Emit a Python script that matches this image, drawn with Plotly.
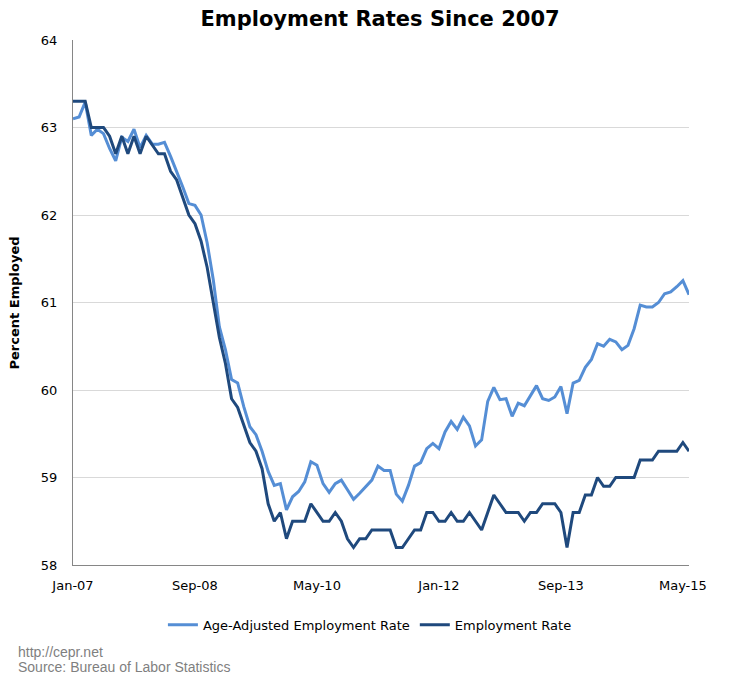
import plotly.graph_objects as go

month_names = ["Jan", "Feb", "Mar", "Apr", "May", "Jun", "Jul", "Aug", "Sep", "Oct", "Nov", "Dec"]
years = ["07", "08", "09", "10", "11", "12", "13", "14", "15"]
months = [f"{m}-{y}" for y in years for m in month_names][:102]  # Jan-07 .. Jun-15

age_adjusted = [
    63.10, 63.12, 63.29, 62.91, 62.98, 62.93, 62.76, 62.62, 62.89, 62.84, 62.98, 62.77,
    62.91, 62.81, 62.81, 62.83, 62.67, 62.50, 62.32, 62.13, 62.11, 62.00, 61.68, 61.26,
    60.72, 60.46, 60.12, 60.08, 59.81, 59.58, 59.49, 59.30, 59.07, 58.91, 58.93, 58.63,
    58.78, 58.84, 58.95, 59.18, 59.14, 58.93, 58.83, 58.93, 58.97, 58.86, 58.75, 58.82,
    58.89, 58.97, 59.13, 59.08, 59.08, 58.81, 58.73, 58.91, 59.13, 59.17, 59.33, 59.39,
    59.33, 59.52, 59.64, 59.55, 59.69, 59.59, 59.36, 59.43, 59.87, 60.03, 59.89, 59.90,
    59.70, 59.85, 59.82, 59.94, 60.05, 59.90, 59.88, 59.92, 60.04, 59.73, 60.08, 60.11,
    60.26, 60.35, 60.53, 60.50, 60.58, 60.55, 60.46, 60.51, 60.70, 60.97, 60.95, 60.95,
    61.00, 61.10, 61.12, 61.18, 61.25, 61.09,
]

employment = [
    63.3, 63.3, 63.3, 63.0, 63.0, 63.0, 62.9, 62.7, 62.9, 62.7, 62.9, 62.7,
    62.9, 62.8, 62.7, 62.7, 62.5, 62.4, 62.2, 62.0, 61.9, 61.7, 61.4, 61.0,
    60.6, 60.3, 59.9, 59.8, 59.6, 59.4, 59.3, 59.1, 58.7, 58.5, 58.6, 58.3,
    58.5, 58.5, 58.5, 58.7, 58.6, 58.5, 58.5, 58.6, 58.5, 58.3, 58.2, 58.3,
    58.3, 58.4, 58.4, 58.4, 58.4, 58.2, 58.2, 58.3, 58.4, 58.4, 58.6, 58.6,
    58.5, 58.5, 58.6, 58.5, 58.5, 58.6, 58.5, 58.4, 58.6, 58.8, 58.7, 58.6,
    58.6, 58.6, 58.5, 58.6, 58.6, 58.7, 58.7, 58.7, 58.6, 58.2, 58.6, 58.6,
    58.8, 58.8, 59.0, 58.9, 58.9, 59.0, 59.0, 59.0, 59.0, 59.2, 59.2, 59.2,
    59.3, 59.3, 59.3, 59.3, 59.4, 59.3,
]

x_tick_labels = ["Jan-07", "Sep-08", "May-10", "Jan-12", "Sep-13", "May-15"]
y_ticks = [58, 59, 60, 61, 62, 63, 64]

fig = go.Figure()
fig.add_trace(go.Scatter(
    x=months, y=age_adjusted, mode="lines", name="Age-Adjusted Employment Rate",
    line=dict(color="#558ED5", width=3),
))
fig.add_trace(go.Scatter(
    x=months, y=employment, mode="lines", name="Employment Rate",
    line=dict(color="#1F497D", width=3),
))

footer_font = dict(family="Liberation Sans", size=14, color="#7F7F7F")

fig.update_layout(
    width=721, height=671,
    margin=dict(l=65, r=40, t=32, b=114, autoexpand=False),
    paper_bgcolor="white", plot_bgcolor="white",
    font=dict(family="DejaVu Sans", size=13, color="black"),
    title=dict(text="<b>Employment Rates Since 2007</b>", x=0.516, xanchor="center",
               y=0.9836, yanchor="middle", font=dict(size=21, family="DejaVu Sans", color="black")),
    showlegend=True,
    legend=dict(orientation="h", x=0.482, xanchor="center", y=-0.114, yanchor="middle",
                font=dict(size=13), traceorder="normal"),
    xaxis=dict(
        type="category", categoryorder="array", categoryarray=months, automargin=False,
        range=[0, 101], tickmode="array", tickvals=x_tick_labels, ticktext=x_tick_labels,
        showgrid=False, showline=True, linecolor="#868686", linewidth=1,
        ticks="outside", ticklen=8, tickcolor="rgba(0,0,0,0)", tickfont=dict(size=13),
        zeroline=False,
    ),
    yaxis=dict(
        range=[58, 64], tickmode="array", tickvals=y_ticks, automargin=False,
        showgrid=True, gridcolor="#D9D9D9", gridwidth=1,
        showline=True, linecolor="#868686", linewidth=1,
        ticks="outside", ticklen=12, tickcolor="rgba(0,0,0,0)",
        tickfont=dict(size=13), zeroline=False,
    ),
    annotations=[
        dict(text="<b>Percent Employed</b>", xref="paper", yref="paper", x=-0.0942, y=0.5,
             xanchor="center", yanchor="middle", textangle=-90, showarrow=False,
             font=dict(family="DejaVu Sans", size=13, color="black")),
        dict(text="http://cepr.net", xref="paper", yref="paper", x=-0.0925, y=-0.1657,
             xanchor="left", yanchor="middle", showarrow=False, font=footer_font),
        dict(text="Source: Bureau of Labor Statistics", xref="paper", yref="paper", x=-0.0925, y=-0.1943,
             xanchor="left", yanchor="middle", showarrow=False, font=footer_font),
    ],
)

fig.write_html("out.html")
